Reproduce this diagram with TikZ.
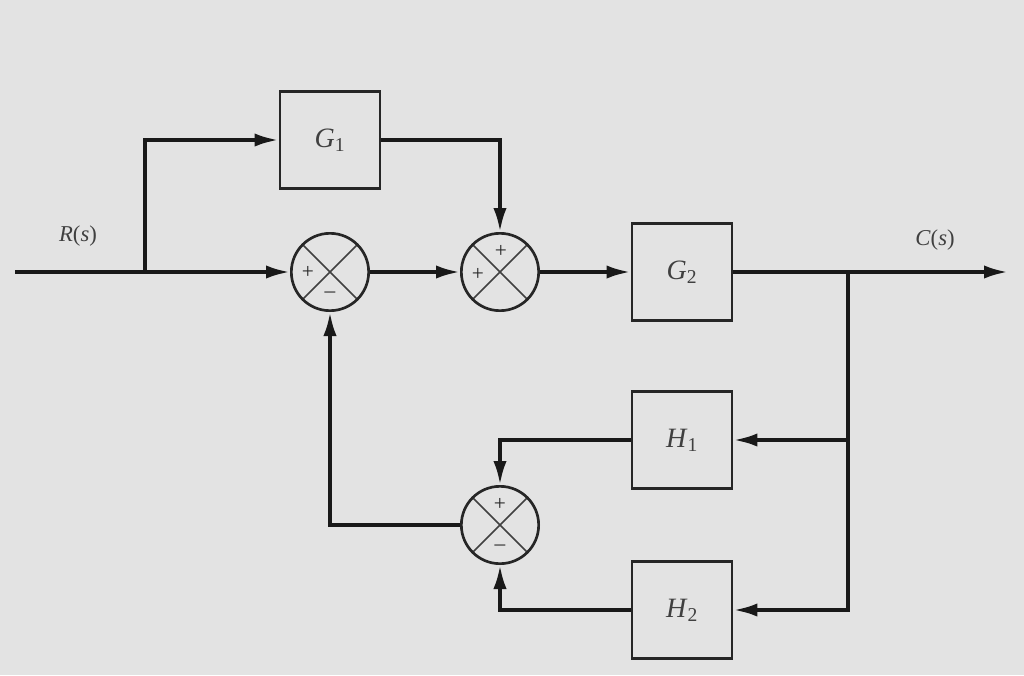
\documentclass[tikz,border=0pt]{standalone}
\usepackage{fontspec}
\setmainfont{Liberation Serif}
\usetikzlibrary{arrows.meta}
\begin{document}
\begin{tikzpicture}[x=0.75pt,y=-0.75pt,
  blk/.style={draw=black!85, line width=2.2pt, minimum width=75pt, minimum height=73pt, inner sep=0pt, font=\fontsize{21}{24}\selectfont, text=black!75},
  sumj/.style={circle, draw=black!85, line width=2pt, minimum size=58pt, inner sep=0pt,
    path picture={\draw[line width=1.1pt,black!75] (path picture bounding box.north west)--(path picture bounding box.south east) (path picture bounding box.north east)--(path picture bounding box.south west);}},
  sig/.style={font=\fontsize{16}{16}\selectfont, inner sep=0pt, text=black!85},
  wire/.style={line width=2.8pt, draw=black!90},
  arr/.style={wire, -{Latex[length=18pt,width=10pt]}},
  lbl/.style={font=\fontsize{17}{20}\selectfont, text=black!75}
]
\fill[black!11] (0,0) rectangle (1024,675);
\useasboundingbox (0,0) rectangle (1024,675);

\node[blk] (G1) at (330,140) {\textit{G}\textsubscript{1}};
\node[blk] (G2) at (682,272) {\textit{G}\textsubscript{2}};
\node[blk] (H1) at (682,440) {\textit{H}\textsubscript{1}};
\node[blk] (H2) at (682,610) {\textit{H}\textsubscript{2}};

\node[sumj] (s1) at (330,272) {};
\node[sumj] (s2) at (500,272) {};
\node[sumj] (s3) at (500,525) {};

\node[sig] (p1) at (308,272) {+};
\node[sig] (m1) at (330,295) {--};
\node[sig] (p2a) at (478,274) {+};
\node[sig] (p2b) at (501,251) {+};
\node[sig] (p3) at (500,504) {+};
\node[sig] (m3) at (500,548) {--};

\coordinate (in) at (15,272);
\coordinate (b1) at (145,272);
\coordinate (b2) at (848,272);
\coordinate (out) at (1008,272);

\node[lbl] (R) at (78,236) {\textit{R}(\textit{s})};
\node[lbl] (C) at (935,240) {\textit{C}(\textit{s})};

\draw[arr] (in) -- (s1.west);
\draw[arr] (b1) |- (G1.west);
\draw[arr] (G1.east) -| (s2.north);
\draw[arr] (s1.east) -- (s2.west);
\draw[arr] (s2.east) -- (G2.west);
\draw[arr] (G2.east) -- (out);
\draw[arr] (b2) |- (H1.east);
\draw[arr] (b2) |- (H2.east);
\draw[arr] (H1.west) -| (s3.north);
\draw[arr] (H2.west) -| (s3.south);
\draw[arr] (s3.west) -| (s1.south);
\end{tikzpicture}
\end{document}
